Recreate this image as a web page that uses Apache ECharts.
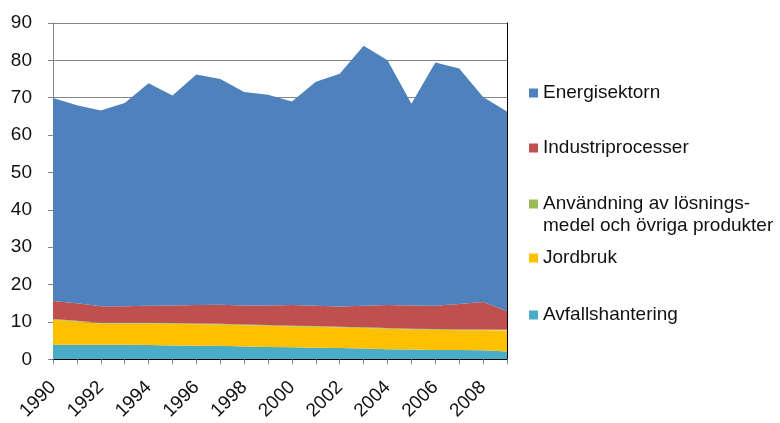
<!DOCTYPE html>
<html>
<head>
<meta charset="utf-8">
<script src="https://cdn.jsdelivr.net/npm/echarts@6/dist/echarts.min.js"></script>
<style>
html,body{margin:0;padding:0;background:#fff;}
#chart{width:780px;height:423px;}
</style>
</head>
<body>
<div id="chart"></div>
<script>
var years = ['1990','1991','1992','1993','1994','1995','1996','1997','1998','1999','2000','2001','2002','2003','2004','2005','2006','2007','2008','2009'];
var yTicks = [0,10,20,30,40,50,60,70,80,90];
var avfallshantering = [3.9,3.9,3.9,3.9,3.8,3.7,3.6,3.6,3.4,3.3,3.2,3.1,3.0,2.9,2.7,2.6,2.5,2.5,2.4,2.1];
var jordbruk = [6.7,6.2,5.7,5.7,5.8,5.8,5.8,5.7,5.7,5.7,5.6,5.6,5.5,5.5,5.5,5.4,5.4,5.3,5.4,5.6];
var anvandning = [0.2,0.2,0.2,0.2,0.2,0.2,0.2,0.2,0.2,0.2,0.2,0.2,0.2,0.2,0.2,0.2,0.2,0.2,0.2,0.2];
var industriprocesser = [4.8,4.7,4.4,4.4,4.5,4.7,4.9,5.1,5.1,5.2,5.5,5.4,5.4,5.7,6.1,6.2,6.2,6.8,7.3,5.0];
var energisektorn = [54.3,53.0,52.4,54.4,59.6,56.2,61.7,60.4,57.1,56.4,54.5,60.0,62.3,69.6,65.5,54.0,65.1,63.0,54.9,53.4];

var names = ['Energisektorn','Industriprocesser','Användning av lösningsmedel och övriga produkter','Jordbruk','Avfallshantering'];
var colors = {'Energisektorn':'#4F81BD','Industriprocesser':'#C0504D','Användning av lösningsmedel och övriga produkter':'#9BBB59','Jordbruk':'#FFC000','Avfallshantering':'#4BACC6'};
var legendTops = [83,138,194,248,305];
var FONT = 'Liberation Sans, Arial, sans-serif';

function areaSeries(name, data){
  return {
    name:name, type:'line', stack:'total', data:data, symbol:'none', showSymbol:false,
    lineStyle:{width:0}, areaStyle:{color:colors[name], opacity:1}, itemStyle:{color:colors[name]},
    z:2
  };
}

var legends = names.map(function(n,i){
  return {
    data:[n], left:529, top:legendTops[i], orient:'vertical', padding:0,
    itemWidth:9, itemHeight:9, icon:'rect', selectedMode:false,
    formatter: function(name){ return name === names[2] ? 'Användning av lösnings-' : name; },
    textStyle:{fontSize:19, lineHeight:20, color:'#111', fontFamily:FONT}
  };
});

var chart = echarts.init(document.getElementById('chart'));
chart.setOption({
  backgroundColor:'#fff',
  animation:false,
  legend: legends,
  graphic:[{type:'text', left:543, top:216, style:{text:'medel och övriga produkter', fontSize:19, fill:'#111', fontFamily:FONT}}],
  grid:{left:53, right:273, top:23, bottom:63},
  xAxis:[{
    type:'category', data:years, boundaryGap:false, z:5,
    axisLine:{lineStyle:{color:'#868686', width:1}},
    axisTick:{show:true, interval:0, length:5, lineStyle:{color:'#868686'}},
    axisLabel:{interval:1, rotate:45, margin:25, fontSize:19, color:'#111', fontFamily:FONT},
    splitLine:{show:false}
  },{
    type:'category', data:years, boundaryGap:false, position:'top', z:5,
    axisLine:{lineStyle:{color:'#000', width:1}}, axisTick:{show:false}, axisLabel:{show:false}, splitLine:{show:false}
  }],
  yAxis:[{
    type:'value', min:yTicks[0], max:yTicks[yTicks.length-1], interval:10, z:0,
    axisLine:{show:true, lineStyle:{color:'#868686'}},
    axisTick:{show:true, length:5, lineStyle:{color:'#868686'}},
    axisLabel:{margin:21, fontSize:19, color:'#111', fontFamily:FONT},
    splitLine:{show:true, lineStyle:{color:'#868686', width:1}}
  },{
    type:'value', min:0, max:90, interval:10, position:'right', z:5,
    axisLine:{show:true, lineStyle:{color:'#000', width:1}}, axisTick:{show:false}, axisLabel:{show:false}, splitLine:{show:false}
  }],
  series:[
    areaSeries('Avfallshantering', avfallshantering),
    areaSeries('Jordbruk', jordbruk),
    areaSeries('Användning av lösningsmedel och övriga produkter', anvandning),
    areaSeries('Industriprocesser', industriprocesser),
    areaSeries('Energisektorn', energisektorn)
  ]
});
</script>
</body>
</html>
